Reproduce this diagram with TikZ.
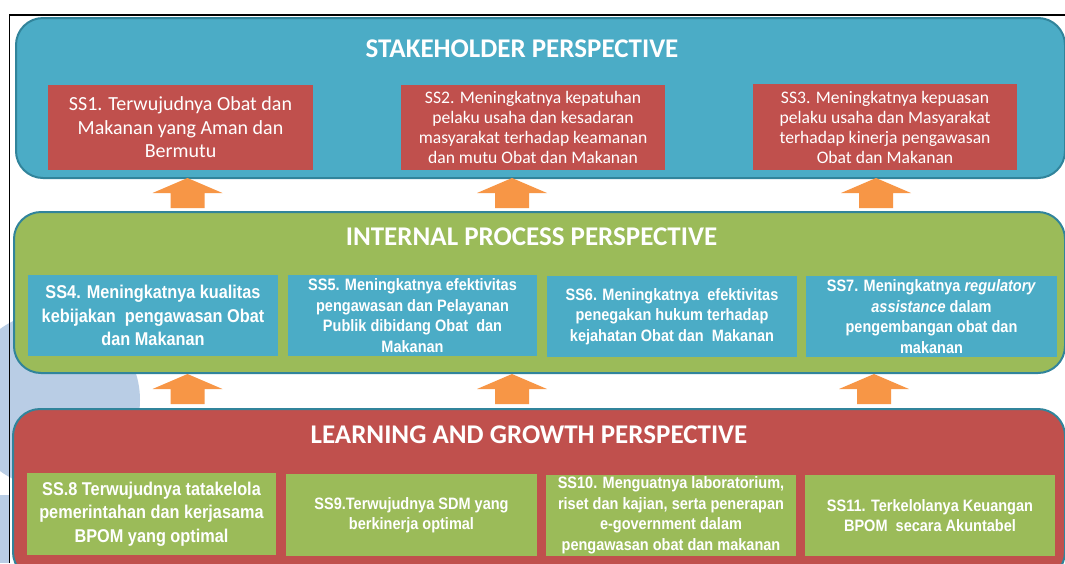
\documentclass[tikz,border=0pt]{standalone}
\usepackage{fontspec}
\setmainfont{Carlito}
\newfontfamily\calibri{Carlito}
\newfontfamily\arialn[FakeStretch=0.88]{Liberation Sans}
\definecolor{sred}{HTML}{C0504D}
\definecolor{sblue}{HTML}{4BACC6}
\definecolor{sgreen}{HTML}{9BBB59}
\definecolor{sborder}{HTML}{31849B}
\definecolor{sorange}{HTML}{F79646}
\definecolor{pale}{HTML}{B9CDE5}
\tikzset{
  panel/.style={draw=sborder, line width=2pt, rounded corners=27pt, anchor=north west, inner sep=0pt},
  goalbox/.style={inner sep=0pt, text=white, align=center},
  ptitle/.style={text=white, inner sep=0pt, font=\calibri\bfseries\fontsize{27}{30}\selectfont},
  calA/.style={font=\calibri\fontsize{20}{23.5}\selectfont},
  calB/.style={font=\calibri\fontsize{17.6}{20}\selectfont},
  arA/.style={font=\arialn\bfseries\fontsize{18.5}{23.5}\selectfont},
  arB/.style={font=\arialn\bfseries\fontsize{16.5}{20.5}\selectfont},
  uparrow/.pic={\fill[sorange] (-17,0) -- (-17,-15) -- (-35,-15) -- (0,-30) -- (35,-15) -- (17,-15) -- (17,0) -- cycle;}
}
\begin{document}
\begin{tikzpicture}[x=1pt,y=-1pt]
\clip (0,0) rectangle (1065,563);
\fill[white] (0,0) rectangle (1065,563);
% watermark
\fill[pale] (52,400) circle (88);
\fill[pale] (0,495) rectangle (10,563);
% frame
\draw[line width=1.5pt] (9.5,563) -- (9.5,15) -- (1065,15);
% panels
\node[panel, fill=sblue, minimum width=1049pt, minimum height=160pt] (stake) at (15,17) {};
\node[panel, fill=sgreen, minimum width=1051pt, minimum height=161pt] (internal) at (13,211) {};
\node[panel, fill=sred, minimum width=1052pt, minimum height=170pt] (learn) at (12,408) {};
% titles
\node[ptitle] (t1) at (522,49) {STAKEHOLDER PERSPECTIVE};
\node[ptitle] (t2) at (531.5,237) {INTERNAL PROCESS PERSPECTIVE};
\node[ptitle] (t3) at (529,435) {LEARNING AND GROWTH PERSPECTIVE};
% stakeholder goals
\node[goalbox, calA, fill=sred, minimum width=265pt, minimum height=85pt] (ss1) at (180.5,127.5)
  {SS1. Terwujudnya Obat dan\\Makanan yang Aman dan\\Bermutu};
\node[goalbox, calB, fill=sred, minimum width=264pt, minimum height=85pt] (ss2) at (533,127.5)
  {SS2. Meningkatnya kepatuhan\\pelaku usaha dan kesadaran\\masyarakat terhadap keamanan\\dan mutu Obat dan Makanan};
\node[goalbox, calB, fill=sred, minimum width=264pt, minimum height=86pt] (ss3) at (885,127)
  {SS3. Meningkatnya kepuasan\\pelaku usaha dan Masyarakat\\terhadap kinerja pengawasan\\Obat dan Makanan};
% internal goals
\node[goalbox, arA, fill=sblue, minimum width=250pt, minimum height=81pt] (ss4) at (153,315.5)
  {SS4. Meningkatnya kualitas\\kebijakan\ \ pengawasan Obat\\dan Makanan};
\node[goalbox, arB, fill=sblue, minimum width=249pt, minimum height=81pt] (ss5) at (412.5,315.5)
  {SS5. Meningkatnya efektivitas\\pengawasan dan Pelayanan\\Publik dibidang Obat\ \ dan\\Makanan};
\node[goalbox, arB, fill=sblue, minimum width=250pt, minimum height=81pt] (ss6) at (672,316.5)
  {SS6. Meningkatnya\ \ efektivitas\\penegakan hukum terhadap\\kejahatan Obat dan\ \ Makanan};
\node[goalbox, arB, fill=sblue, minimum width=251pt, minimum height=81pt] (ss7) at (931.5,316.5)
  {SS7. Meningkatnya \textit{regulatory}\\\textit{assistance} dalam\\pengembangan obat dan\\makanan};
% learning goals
\node[goalbox, arA, fill=sgreen, minimum width=249pt, minimum height=82pt] (ss8) at (151.5,514)
  {SS.8 Terwujudnya tatakelola\\pemerintahan dan kerjasama\\BPOM yang optimal};
\node[goalbox, arB, fill=sgreen, minimum width=251pt, minimum height=82pt] (ss9) at (411.5,515)
  {SS9.Terwujudnya SDM yang\\berkinerja optimal};
\node[goalbox, arB, fill=sgreen, minimum width=250pt, minimum height=81pt] (ss10) at (671,515.5)
  {SS10. Menguatnya laboratorium,\\riset dan kajian, serta penerapan\\e-government dalam\\pengawasan obat dan makanan};
\node[goalbox, arB, fill=sgreen, minimum width=250pt, minimum height=81pt] (ss11) at (930,515.5)
  {SS11. Terkelolanya Keuangan\\BPOM\ \ secara Akuntabel};
% arrows
\pic at (187.5,208) {uparrow};
\pic at (512,208) {uparrow};
\pic at (876,208) {uparrow};
\pic at (187.5,404) {uparrow};
\pic at (512,404) {uparrow};
\pic at (874,404) {uparrow};
\end{tikzpicture}
\end{document}
